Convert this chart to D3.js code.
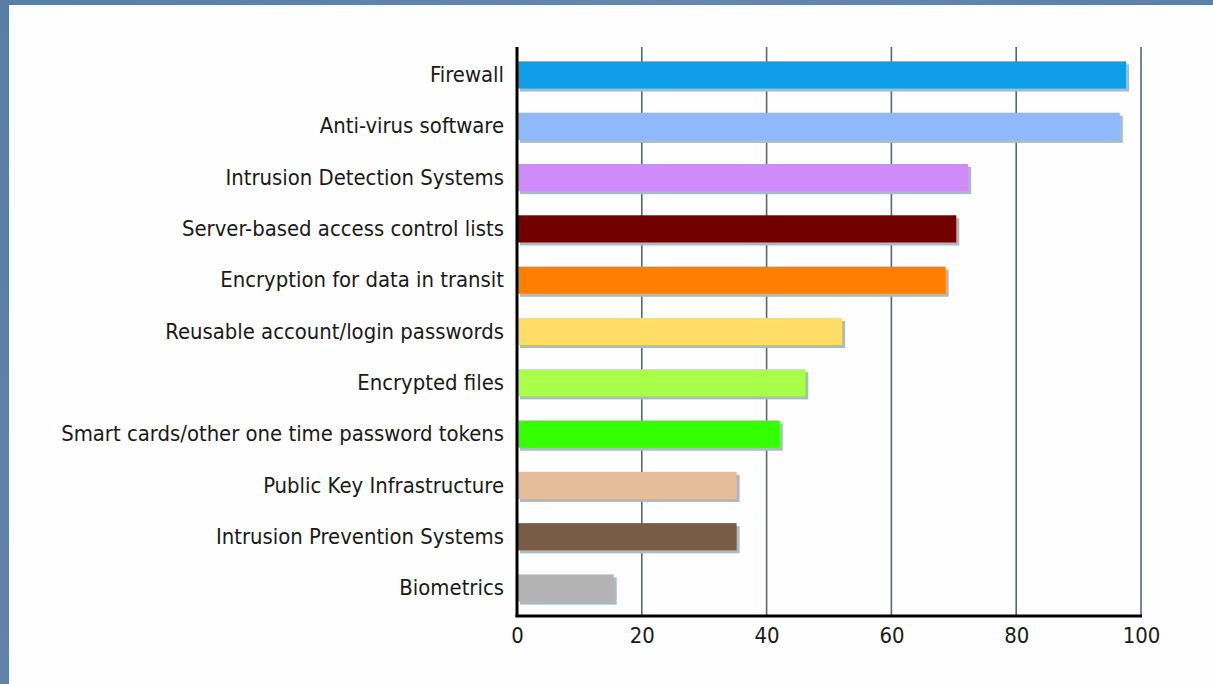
<!DOCTYPE html>
<html>
<head>
<meta charset="utf-8">
<script src="https://cdn.jsdelivr.net/npm/d3@7"></script>
<style>
  html, body { margin: 0; padding: 0; background: #5f81a8; }
  svg { display: block; }
</style>
</head>
<body>
<svg id="chart" width="1213" height="684"></svg>
<script>
const categories = [
  "Firewall",
  "Anti-virus software",
  "Intrusion Detection Systems",
  "Server-based access control lists",
  "Encryption for data in transit",
  "Reusable account/login passwords",
  "Encrypted files",
  "Smart cards/other one time password tokens",
  "Public Key Infrastructure",
  "Intrusion Prevention Systems",
  "Biometrics"
];
const values = [97.6, 96.6, 72.3, 70.4, 68.7, 52.1, 46.2, 42.1, 35.2, 35.2, 15.5];
const colors = ["#0f9de8", "#8fb8fd", "#d08bfa", "#730000", "#ff8000", "#ffdd66",
                "#aaff4a", "#33ff00", "#e6bd9a", "#7a5c45", "#b3b3b3"];
const tickValues = [0, 20, 40, 60, 80, 100];

const svg = d3.select("#chart");
const W = 1213, H = 684;

// background: mottled blue frame + white panel
const defs = svg.append("defs");
const grad = defs.append("linearGradient").attr("id", "bg").attr("x1", 0).attr("x2", 1).attr("y1", 0).attr("y2", 0.3);
grad.append("stop").attr("offset", "0%").attr("stop-color", "#5a7da5");
grad.append("stop").attr("offset", "50%").attr("stop-color", "#6688ad");
grad.append("stop").attr("offset", "100%").attr("stop-color", "#5b7ea6");
svg.append("rect").attr("width", W).attr("height", H).attr("fill", "url(#bg)");
svg.append("rect").attr("x", 9).attr("y", 5).attr("width", W - 9).attr("height", H - 5).attr("fill", "#fefefe");

const x = d3.scaleLinear().domain([0, 100]).range([517, 1141]);
const y = d3.scaleBand().domain(categories).range([47, 616]).paddingInner(0.47).paddingOuter(0.28);

// gridlines
svg.append("g").selectAll("line").data(tickValues.filter(d => d > 0)).join("line")
  .attr("x1", d => x(d)).attr("x2", d => x(d))
  .attr("y1", 47).attr("y2", 616)
  .attr("stroke", "#4f6b74").attr("stroke-width", 1.6);

const data = categories.map((c, i) => ({ c, v: values[i], col: colors[i] }));

// shadows
svg.append("g").selectAll("rect").data(data).join("rect")
  .attr("x", x(0) + 3).attr("y", d => y(d.c) + 3)
  .attr("width", d => x(d.v) - x(0)).attr("height", y.bandwidth())
  .attr("fill", "#a9bcc6");

// bars
svg.append("g").selectAll("rect").data(data).join("rect")
  .attr("x", x(0)).attr("y", d => y(d.c))
  .attr("width", d => x(d.v) - x(0)).attr("height", y.bandwidth())
  .attr("fill", d => d.col);

// axes lines
svg.append("line").attr("x1", x(0)).attr("x2", x(0)).attr("y1", 47).attr("y2", 617)
  .attr("stroke", "#000").attr("stroke-width", 3);
svg.append("line").attr("x1", x(0) - 1.5).attr("x2", x(100) + 1).attr("y1", 616).attr("y2", 616)
  .attr("stroke", "#000").attr("stroke-width", 3);

// category labels
const fontFam = "'DejaVu Sans Condensed', 'DejaVu Sans', sans-serif";
const labels = svg.append("g").selectAll("text").data(data).join("text")
  .attr("x", 504).attr("y", d => y(d.c) + y.bandwidth() / 2)
  .attr("dy", "0.33em")
  .attr("text-anchor", "end")
  .attr("font-family", fontFam)
  .attr("font-stretch", "condensed")
  .attr("font-size", 16)
  .attr("fill", "#1a1a1a")
  .text(d => d.c);

// fit label font size so the longest label spans like the reference (~443px)
let longest = 0;
labels.each(function () { longest = Math.max(longest, this.getComputedTextLength()); });
const fs = 16 * 443 / longest;
labels.attr("font-size", fs);

// tick labels
const xAxis = d3.axisBottom(x).tickValues(tickValues).tickSize(0).tickPadding(0);
const gx = svg.append("g").attr("transform", "translate(0,627)").call(xAxis);
gx.select(".domain").remove();
gx.selectAll("text")
  .attr("font-family", fontFam)
  .attr("font-stretch", "condensed")
  .attr("font-size", fs)
  .attr("fill", "#1a1a1a")
  .attr("dy", "0.71em");
</script>
</body>
</html>
